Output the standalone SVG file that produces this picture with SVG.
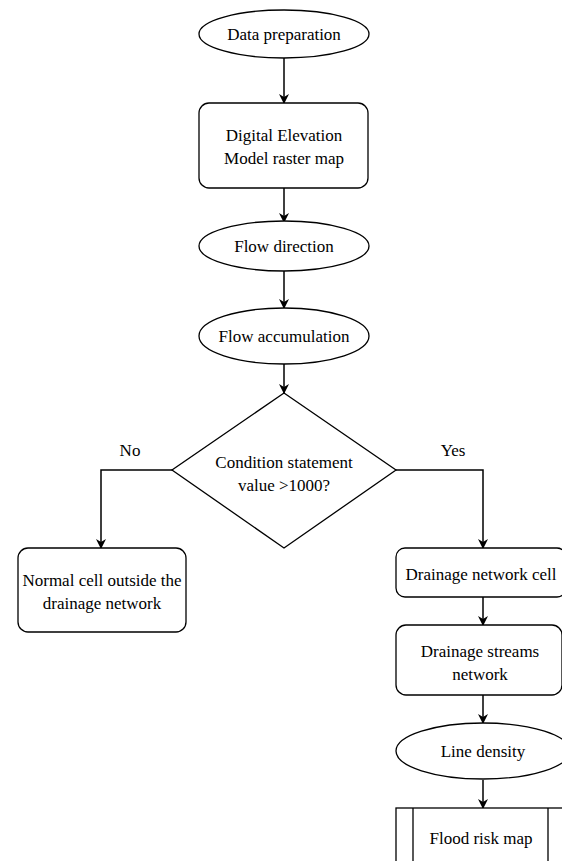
<svg xmlns="http://www.w3.org/2000/svg" width="562" height="861" viewBox="0 0 562 861">
<style>
.s{fill:#fff;stroke:#000;stroke-width:1.3}
.c{fill:none;stroke:#000;stroke-width:1.5}
text{font-family:"Liberation Serif","Times New Roman",serif;font-size:17px;fill:#000;text-anchor:middle}
</style>
<defs>
<marker id="a" viewBox="0 0 10 10" refX="9" refY="5" markerWidth="10" markerHeight="10" markerUnits="userSpaceOnUse" orient="auto">
<path d="M0,0 L10,5 L0,10 L3,5 Z" fill="#000"/>
</marker>
</defs>
<rect width="562" height="861" fill="#fff"/>
<g id="connectors">
<path class="c" d="M284,58 V103" marker-end="url(#a)"/>
<path class="c" d="M284,188 V222" marker-end="url(#a)"/>
<path class="c" d="M284,271 V308" marker-end="url(#a)"/>
<path class="c" d="M284,364 V393" marker-end="url(#a)"/>
<path class="c" d="M172,470 H101 V548" marker-end="url(#a)"/>
<path class="c" d="M396,470 H483 V548" marker-end="url(#a)"/>
<path class="c" d="M483,597 V625" marker-end="url(#a)"/>
<path class="c" d="M483,695 V723" marker-end="url(#a)"/>
<path class="c" d="M483,780 V808" marker-end="url(#a)"/>
<text x="130" y="456">No</text>
<text x="453" y="456">Yes</text>
</g>
<g id="n1"><ellipse class="s" cx="284" cy="34" rx="85" ry="24"/><text x="284" y="40">Data preparation</text></g>
<g id="n2"><rect class="s" x="199" y="103" width="169" height="85" rx="10"/><text x="284" y="141">Digital Elevation</text><text x="284" y="164">Model raster map</text></g>
<g id="n3"><ellipse class="s" cx="284" cy="246" rx="85" ry="25"/><text x="284" y="252">Flow direction</text></g>
<g id="n4"><ellipse class="s" cx="284" cy="336" rx="85" ry="28"/><text x="284" y="342">Flow accumulation</text></g>
<g id="n5"><path class="s" d="M284,393 L396,470 L284,548 L172,470 Z"/><text x="284" y="468">Condition statement</text><text x="284" y="491">value &gt;1000?</text></g>
<g id="n6"><rect class="s" x="18" y="548" width="168" height="84" rx="10"/><text x="102" y="586">Normal cell outside the</text><text x="102" y="609">drainage network</text></g>
<g id="n7"><rect class="s" x="396" y="548" width="170" height="49" rx="9"/><text x="481" y="580">Drainage network cell</text></g>
<g id="n8"><rect class="s" x="396" y="625" width="166" height="70" rx="10"/><text x="480" y="657">Drainage streams</text><text x="480" y="680">network</text></g>
<g id="n9"><ellipse class="s" cx="483" cy="751" rx="87" ry="28"/><text x="483" y="757">Line density</text></g>
<g id="n10"><rect class="s" x="396" y="808" width="175" height="70"/><path class="s" d="M413,808 V870 M548,808 V870"/><text x="481" y="844">Flood risk map</text></g>
</svg>
